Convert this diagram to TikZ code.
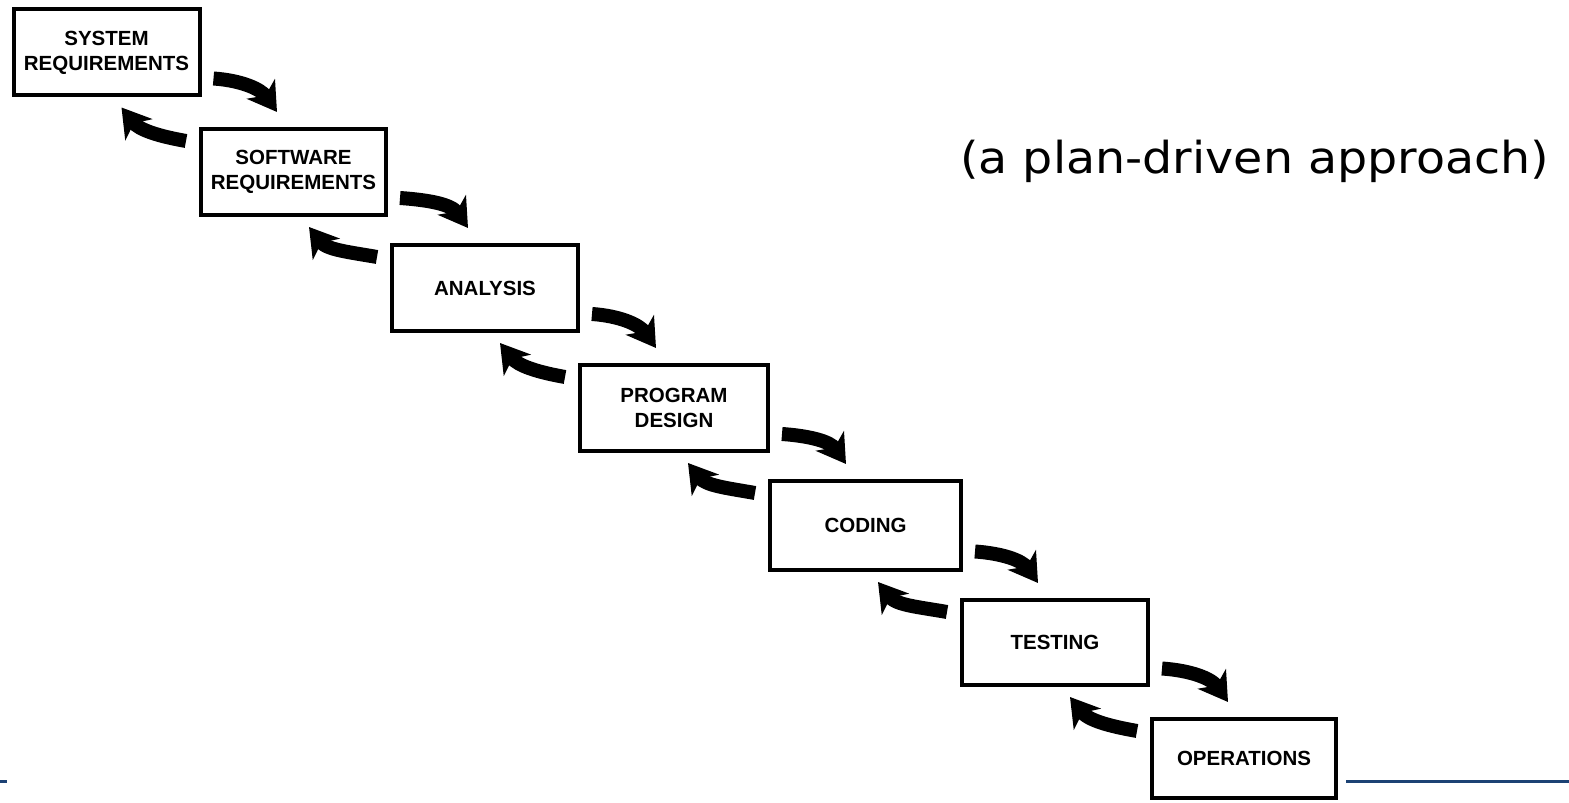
\documentclass[tikz,border=0pt]{standalone}
\usepackage{fontspec}
\setmainfont{Liberation Sans}
\newfontfamily\capfont{DejaVu Sans}
\usetikzlibrary{arrows.meta,calc}

\definecolor{ruleblue}{RGB}{28,66,116}

\tikzset{
  phase/.style={draw, line width=4pt, inner sep=0pt, align=center,
    minimum width=186pt, minimum height=86pt,
    font=\fontsize{20.5pt}{25pt}\selectfont\bfseries},
  flow/.style={line width=14pt, line cap=butt,
    -{Stealth[length=28pt,width=34pt,inset=8pt]}},
  fwd/.style={flow, out=-4, in=125},
  back/.style={flow, out=170, in=-52},
  rule/.style={draw=ruleblue, line width=3pt}
}

\begin{document}
\begin{tikzpicture}[x=1pt, y=1pt]
  \useasboundingbox (0,0) rectangle (1569,803);

  % the seven phases, stepping down to the right
  \node[phase] (sysreq) at (106.5,750.5) {SYSTEM\\REQUIREMENTS};
  \node[phase, minimum width=185pt] (swreq) at (293.5,631) {SOFTWARE\\REQUIREMENTS};
  \node[phase] (analysis) at (485,515) {ANALYSIS};
  \node[phase, minimum width=188pt] (design) at (674,395) {PROGRAM\\DESIGN};
  \node[phase, minimum width=191pt, minimum height=89pt] (coding) at (865.5,277.5) {CODING};
  \node[phase, minimum height=85pt] (testing) at (1055,160.5) {TESTING};
  \node[phase, minimum width=184pt, minimum height=79pt] (ops) at (1244,44.5) {OPERATIONS};

  % caption
  \node[anchor=base west, inner sep=0pt, xscale=1.08,
        font=\capfont\fontsize{44pt}{52pt}\selectfont] (caption) at (960,629)
        {(a plan-driven approach)};

  % forward and feedback arrows between neighbouring phases
  \foreach \a/\b in {sysreq/swreq, swreq/analysis, analysis/design,
                     design/coding, coding/testing, testing/ops} {
    \draw[fwd]  ([shift={(12pt,-26pt)}]\a.east) to ([shift={(78pt,15pt)}]\b.north west);
    \draw[back] ([shift={(-13pt,-14pt)}]\b.north west) to ([shift={(110pt,-10pt)}]\a.south west);
  }

  % footer rule
  \draw[rule] (0,21) -- (7,21);
  \draw[rule] (1346,21) -- (1569,21);
\end{tikzpicture}
\end{document}
